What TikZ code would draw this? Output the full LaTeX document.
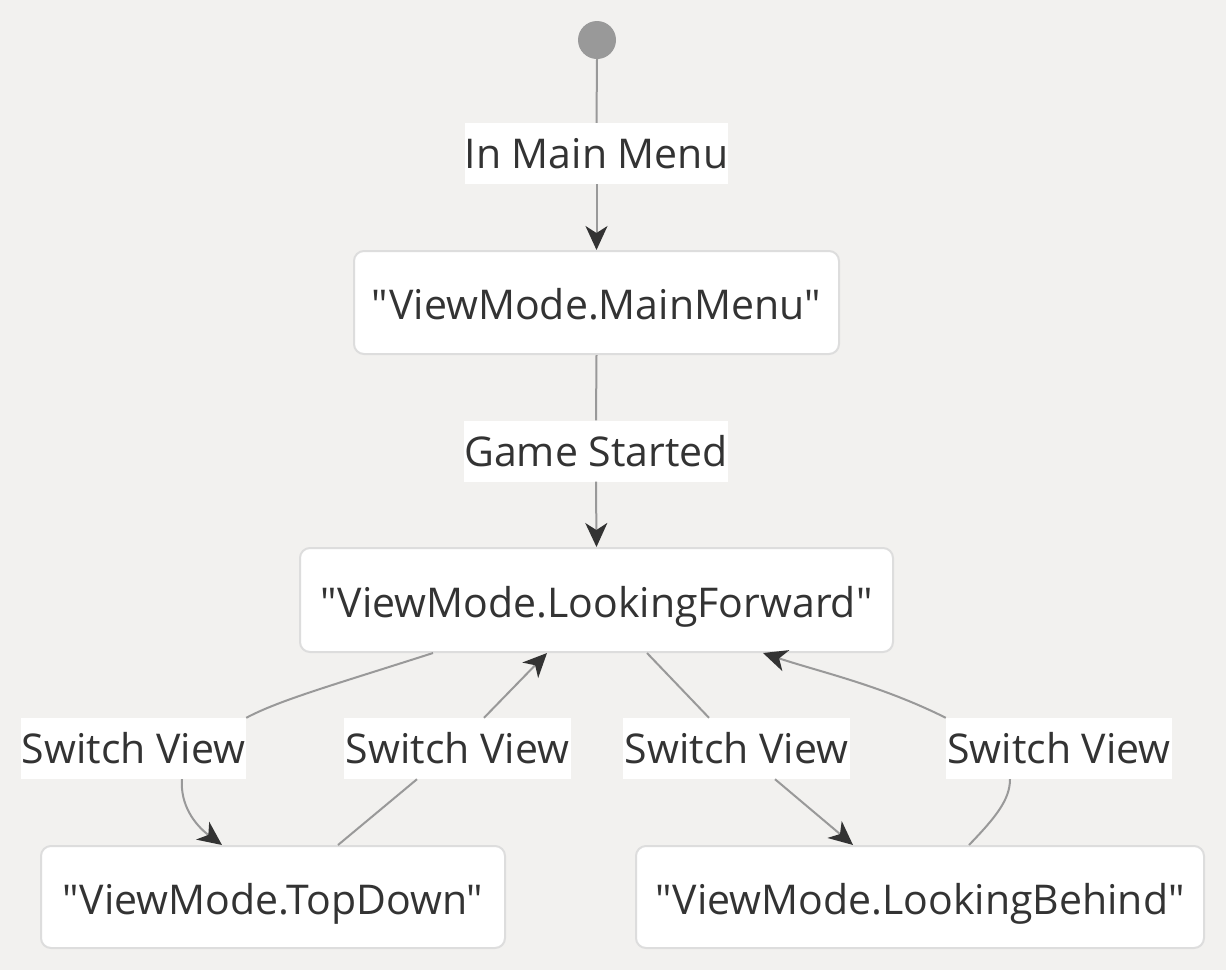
\documentclass[tikz,border=0pt]{standalone}
\usepackage{fontspec}
\setmainfont{Open Sans}[Ligatures=TeXOff]
\usetikzlibrary{arrows.meta}
\definecolor{bgc}{HTML}{F2F1EF}
\definecolor{edgec}{HTML}{999999}
\definecolor{boxc}{HTML}{DDDDDD}
\definecolor{txtc}{HTML}{333333}
\definecolor{startc}{HTML}{999999}
\tikzset{
  state/.style={draw=boxc, line width=2pt, fill=white, rounded corners=10pt, inner sep=0pt, text=txtc, text height=34pt, text depth=0pt, font=\fontsize{41}{49}\selectfont},
  lbl/.style={fill=white, inner sep=0pt, minimum height=61pt, text=txtc, font=\fontsize{41}{49}\selectfont},
  edge/.style={draw=edgec, line width=2pt},
  arr/.style={edge, -{Stealth[length=24pt, width=22pt, inset=7pt, color=txtc]}},
}
\begin{document}
\begin{tikzpicture}[x=1pt, y=-1pt]
\useasboundingbox[fill=bgc] (0,0) rectangle (1226,970);
\node[circle, fill=startc, minimum size=38pt, inner sep=0pt] (start) at (597,40) {};
\node[state, minimum width=485pt, minimum height=103pt] (mm) at (596.5,302.5) {"ViewMode.MainMenu"};
\node[state, minimum width=593pt, minimum height=104pt] (lf) at (596.5,600) {"ViewMode.LookingForward"};
\node[state, minimum width=464pt, minimum height=102pt] (td) at (273,897) {"ViewMode.TopDown"};
\node[state, minimum width=568pt, minimum height=102pt] (lb) at (920,897) {"ViewMode.LookingBehind"};

\node[lbl, minimum width=251pt] (lmain) at (596.5,153.5) {In Main Menu};
\node[lbl, minimum width=256pt] (lgame) at (596,451) {Game Started};
\node[lbl, minimum width=225pt] (l1) at (133.5,748.5) {Switch View};
\node[lbl, minimum width=227pt] (l2) at (457.5,748.5) {Switch View};
\node[lbl, minimum width=227pt] (l3) at (736.5,748.5) {Switch View};
\node[lbl, minimum width=226pt] (l4) at (1059,748.5) {Switch View};

\draw[edge] (start.south) -- (lmain.north);
\draw[arr] (lmain.south) -- (mm.north);
\draw[edge] (mm.south) -- (lgame.north);
\draw[arr] (lgame.south) -- (lf.north);

\draw[edge] ([xshift=-163.5pt]lf.south) .. controls (330,686) and (280,700) .. (l1.north east);
\draw[arr] ([xshift=48.5pt]l1.south) .. controls (180,805) and (195,825) .. ([xshift=-51pt]td.north);

\draw[edge] ([xshift=65pt]td.north) -- ([xshift=-40.5pt]l2.south);
\draw[arr] ([xshift=26.5pt]l2.north) -- ([xshift=-49.5pt]lf.south);

\draw[edge] ([xshift=50.5pt]lf.south) -- ([xshift=-27.5pt]l3.north);
\draw[arr] ([xshift=38.5pt]l3.south) -- ([xshift=-67pt]lb.north);

\draw[edge] ([xshift=49pt]lb.north) .. controls (995,818) and (1010,800) .. ([xshift=-49pt]l4.south);
\draw[arr] (l4.north west) .. controls (880,685) and (820,672) .. ([xshift=166.5pt]lf.south);
\end{tikzpicture}
\end{document}
